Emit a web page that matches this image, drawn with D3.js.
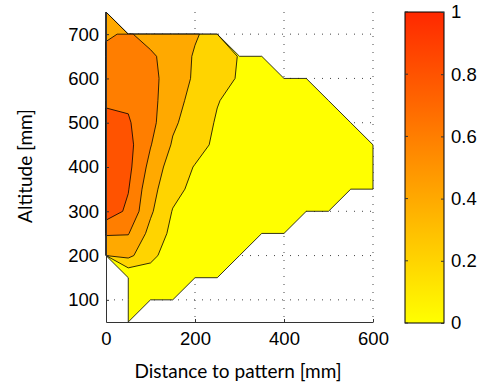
<!DOCTYPE html>
<meta charset="utf-8">
<style>
body { margin: 0; background: #fff; }
.axis text { font: 18.5px "Liberation Sans", Arial, sans-serif; fill: #000; }
.axis path, .axis line { stroke: #333; }
.label { font: 19px Lato, sans-serif; fill: #000; }
.grid line { stroke: #444; stroke-dasharray: 1,7; }
</style>
<svg width="485" height="389"></svg>
<script src="https://d3js.org/d3.v7.min.js"></script>
<script>

// grid positions (mm)
var distance = [0, 50, 100, 150, 200, 250, 300, 350, 400, 450, 500, 550, 600];
var altitude = [50, 100, 150, 200, 250, 300, 350, 400, 450, 500, 550, 600, 650, 700, 750];

// measured value, one row per altitude (null = no measure)
var n = null;
var value = [
  [n, 0, n, n, n, n, n, n, n, n, n, n, n],
  [n, 0, 0.03, 0.02, n, n, n, n, n, n, n, n, n],
  [n, 0, 0.1, 0.07, 0.04, 0.02, n, n, n, n, n, n, n],
  [0.41, 0.45, 0.25, 0.1, 0.06, 0.03, 0.01, n, n, n, n, n, n],
  [0.62, 0.61, 0.34, 0.15, 0.09, 0.05, 0.03, 0.02, 0.01, n, n, n, n],
  [0.92, 0.76, 0.43, 0.19, 0.12, 0.08, 0.05, 0.03, 0.02, 0.01, 0, n, n],
  [0.95, 0.81, 0.47, 0.26, 0.15, 0.1, 0.07, 0.05, 0.03, 0.02, 0.01, 0, 0],
  [0.97, 0.85, 0.54, 0.3, 0.19, 0.13, 0.08, 0.06, 0.04, 0.02, 0.01, 0, 0],
  [0.95, 0.86, 0.61, 0.38, 0.27, 0.16, 0.1, 0.06, 0.03, 0.02, 0.01, 0, 0],
  [0.88, 0.82, 0.66, 0.43, 0.31, 0.18, 0.12, 0.08, 0.05, 0.03, 0.01, 0, n],
  [0.76, 0.77, 0.66, 0.48, 0.33, 0.21, 0.13, 0.08, 0.04, 0.02, 0, n, n],
  [0.7, 0.72, 0.65, 0.52, 0.37, 0.28, 0.18, 0.1, 0.05, 0.02, n, n, n],
  [0.64, 0.68, 0.63, 0.52, 0.38, 0.29, 0.19, 0.1, n, n, n, n, n],
  [0.58, 0.62, 0.53, 0.47, 0.42, 0.32, n, n, n, n, n, n, n],
  [0.5, n, n, n, n, n, n, n, n, n, n, n, n]
];

var levels = [0, 0.2, 0.4, 0.6, 0.8];
var xTicks = [0, 200, 400, 600];
var yTicks = [100, 200, 300, 400, 500, 600, 700];
var barTicks = [0, 0.2, 0.4, 0.6, 0.8, 1];

var svg = d3.select("svg");

var x = d3.scaleLinear().domain([0, 600]).range([106, 373]);
var y = d3.scaleLinear().domain([50, 750]).range([322, 12]);

function cmap(t) { return d3.rgb(255, Math.round(255 - 215 * t), 0); }

// dotted grid
var grid = svg.append("g").attr("class", "grid");
grid.selectAll(".gx").data(xTicks.slice(1)).enter().append("line")
    .attr("x1", x).attr("x2", x).attr("y1", y.range()[1]).attr("y2", y.range()[0]);
grid.selectAll(".gy").data(yTicks).enter().append("line")
    .attr("x1", x.range()[0]).attr("x2", x.range()[1]).attr("y1", y).attr("y2", y);

// padded grid, empty cells pushed far below every level
var nx = distance.length + 2, ny = altitude.length + 2;
var cells = new Array(nx * ny).fill(-1e6);
value.forEach(function(row, j) {
  row.forEach(function(v, i) {
    if (v != null) cells[(j + 1) * nx + i + 1] = v;
  });
});

var ix = d3.scaleLinear().domain([1.5, nx - 1.5]).range([distance[0], distance[distance.length - 1]]);
var iy = d3.scaleLinear().domain([1.5, ny - 1.5]).range([altitude[0], altitude[altitude.length - 1]]);

var proj = d3.geoTransform({
  point: function(cx, cy) { this.stream.point(x(ix(cx)), y(iy(cy))); }
});
var path = d3.geoPath(proj);

var bands = d3.contours().size([nx, ny]).thresholds(levels)(cells);

svg.append("g").selectAll("path")
  .data(bands)
  .enter().append("path")
    .attr("d", path)
    .attr("fill", function(d) { return cmap(d.value); })
    .attr("stroke", "#000")
    .attr("stroke-width", 0.8)
    .attr("stroke-linejoin", "round");

// axes
svg.append("g").attr("class", "axis")
    .attr("transform", "translate(0,322)")
    .call(d3.axisBottom(x).tickValues(xTicks).tickSizeInner(-3).tickSizeOuter(0).tickPadding(10));

svg.append("g").attr("class", "axis")
    .attr("transform", "translate(106,0)")
    .call(d3.axisLeft(y).tickValues(yTicks).tickSizeInner(-3).tickSizeOuter(0).tickPadding(7));

svg.append("text").attr("class", "label")
    .attr("x", 238).attr("y", 378).attr("text-anchor", "middle")
    .text("Distance to pattern [mm]");

svg.append("text").attr("class", "label")
    .attr("transform", "translate(32,166) rotate(-90)").attr("text-anchor", "middle")
    .text("Altitude [mm]");

// colorbar
var c = d3.scaleLinear().domain([0, 1]).range([323, 12]);
var grad = svg.append("defs").append("linearGradient")
    .attr("id", "cbar").attr("x1", 0).attr("y1", 1).attr("x2", 0).attr("y2", 0);
grad.selectAll("stop").data(d3.range(0, 1.001, 0.1)).enter().append("stop")
    .attr("offset", function(d) { return d; })
    .attr("stop-color", function(d) { return cmap(d); });

svg.append("rect")
    .attr("x", 405).attr("y", c(1)).attr("width", 39).attr("height", c(0) - c(1))
    .attr("fill", "url(#cbar)").attr("stroke", "#000").attr("stroke-width", 1);

var cax = svg.append("g").attr("class", "axis")
    .attr("transform", "translate(444,0)")
    .call(d3.axisRight(c).tickValues(barTicks).tickFormat(d3.format("~g")).tickSizeInner(-3).tickSizeOuter(0).tickPadding(7));
cax.select(".domain").remove();
svg.append("g").selectAll("line").data(barTicks).enter().append("line")
    .attr("x1", 405).attr("x2", 408).attr("y1", c).attr("y2", c).attr("stroke", "#333");

</script>
